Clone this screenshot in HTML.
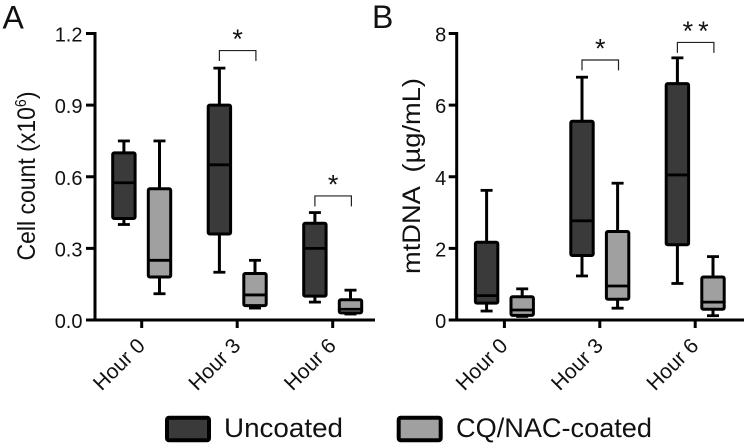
<!DOCTYPE html>
<html>
<head>
<meta charset="utf-8">
<style>
html,body{margin:0;padding:0;background:#fff;}
svg{display:block;font-family:"Liberation Sans",sans-serif;}
</style>
</head>
<body>
<svg id="chart" width="750" height="448" viewBox="0 0 750 448" xmlns="http://www.w3.org/2000/svg">
<text x="2.5" y="28.5" font-size="32" fill="#111">A</text>
<text x="372" y="28" font-size="32" fill="#111">B</text>
<text transform="translate(35,176) rotate(-90) scale(0.92,1)" text-anchor="middle" font-size="25" fill="#111">Cell count (x10<tspan font-size="15.5" dy="-9">6</tspan><tspan dy="9">)</tspan></text>
<text x="0" y="0" transform="translate(420,274) rotate(-90)" font-size="25" textLength="196" lengthAdjust="spacingAndGlyphs" fill="#111" xml:space="preserve">mtDNA  (µg/mL)</text>
<rect x="167" y="417.7" width="42" height="22.6" rx="2" fill="#3a3a3a" stroke="#000" stroke-width="4"/>
<text x="224" y="437" font-size="27" textLength="119" lengthAdjust="spacingAndGlyphs" fill="#111">Uncoated</text>
<rect x="398.7" y="417.7" width="42" height="22.6" rx="2" fill="#a0a0a0" stroke="#000" stroke-width="4"/>
<text x="456" y="437" font-size="27" textLength="196" lengthAdjust="spacingAndGlyphs" fill="#111">CQ/NAC-coated</text>
<g id="plots"></g>
</svg>
<script>
var categories = ['Hour 0', 'Hour 3', 'Hour 6'];
var ticksA = ['0.0', '0.3', '0.6', '0.9', '1.2'];
var ticksB = ['0', '2', '4', '6', '8'];
/* each box: [min, q1, median, q3, max] */
var uncoatedA = [[0.40,0.425,0.575,0.70,0.75],[0.20,0.36,0.65,0.90,1.055],[0.075,0.10,0.30,0.405,0.45]];
var coatedA = [[0.11,0.18,0.25,0.55,0.75],[0.05,0.06,0.105,0.195,0.25],[0.025,0.03,0.045,0.085,0.125]];
var uncoatedB = [[0.25,0.47,0.68,2.17,3.62],[1.23,1.80,2.77,5.55,6.78],[1.02,2.10,4.05,6.60,7.32]];
var coatedB = [[0.10,0.13,0.28,0.65,0.87],[0.33,0.58,0.95,2.47,3.82],[0.12,0.30,0.50,1.20,1.77]];
/* significance markers: category index, label, bracket foot level in axis units */
var sigA = [[1,'*',1.085],[2,'*',0.476]];
var sigB = [[1,'*',6.97],[2,'**',7.46]];

var NS = 'http://www.w3.org/2000/svg';
var root = document.getElementById('plots');
function make(tag, attrs, parent, text) {
  var el = document.createElementNS(NS, tag);
  for (var k in attrs) el.setAttribute(k, attrs[k]);
  if (text !== undefined) el.textContent = text;
  parent.appendChild(el);
  return el;
}
function drawPanel(o) {
  var top = 33.5, bottom = 320;
  var yScale = function (v) { return bottom - (v / o.max) * (bottom - top); };
  var xCenter = function (i) { return o.x0 + i * o.step; };
  var g = make('g', {}, root);
  
  

  function series(vals, offset, fill, name) {
    vals.forEach(function (b, i) {
      var cx = xCenter(i) + offset, hw = 11.2;
      var box = make('g', {}, g);
      
      
      var lineAttr = function (x1, y1, x2, y2, w) {
        return { x1: x1, y1: y1, x2: x2, y2: y2, stroke: '#000', 'stroke-width': w };
      };
      make('line', lineAttr(cx, yScale(b[0]), cx, yScale(b[4]), 3), box);
      make('line', lineAttr(cx - 6, yScale(b[0]), cx + 6, yScale(b[0]), 2.8), box);
      make('line', lineAttr(cx - 6, yScale(b[4]), cx + 6, yScale(b[4]), 2.8), box);
      make('rect', { x: cx - hw, y: yScale(b[3]), width: hw * 2, height: yScale(b[1]) - yScale(b[3]), rx: 1.5, fill: fill, stroke: '#000', 'stroke-width': 3 }, box);
      make('line', lineAttr(cx - hw, yScale(b[2]), cx + hw, yScale(b[2]), 2.8), box);
    });
  }
  series(o.dark, -17.8, '#3a3a3a', 'uncoated');
  series(o.light, 17.8, '#a0a0a0', 'coated');

  var axis = make('g', { stroke: '#000', 'stroke-width': 3, fill: 'none' }, g);
  
  
  make('line', { x1: o.axisX, y1: top - 1.5, x2: o.axisX, y2: bottom + 1.5 }, axis);
  make('line', { x1: o.axisX - o.tickLen, y1: bottom, x2: o.xEnd, y2: bottom }, axis);

  o.ticks.forEach(function (t, i) {
    var y = yScale(o.max * i / (o.ticks.length - 1));
    if (i > 0) make('line', { x1: o.axisX - o.tickLen, y1: y, x2: o.axisX, y2: y }, axis);
    var lab = make('text', { x: o.axisX - o.labelGap, y: y + 8, 'text-anchor': 'end', 'font-size': 20, fill: '#111' }, g, t);
    
    
  });
  categories.forEach(function (c, i) {
    var x = xCenter(i);
    make('line', { x1: x, y1: bottom, x2: x, y2: bottom + 8 }, axis);
    var lab = make('text', { transform: 'translate(' + (x + 4.5) + ',' + (bottom + 27) + ') rotate(-45)', 'text-anchor': 'end', 'font-size': 21, fill: '#111' }, g, c);
    
    
  });
  o.sig.forEach(function (s) {
    var i = s[0], x1 = xCenter(i) - 17.8, x2 = xCenter(i) + 18.7;
    var yb = yScale(s[2]);
    var yt = yb - 10.4;
    var br = make('path', { d: 'M' + x1 + ' ' + yb + 'V' + yt + 'H' + x2 + 'V' + yb, fill: 'none', stroke: '#222', 'stroke-width': 1.2 }, g);
    
    
    var sp = s[1].length > 1 ? 5 : 0;
    var st = make('text', { x: (x1 + x2) / 2 + sp / 2, y: yt - 2.5, 'text-anchor': 'middle', 'font-size': 27, 'letter-spacing': sp, fill: '#111' }, g, s[1]);
    
    
  });
}
drawPanel({ id: 'a', max: 1.2, axisX: 95, xEnd: 375, x0: 141.7, step: 95.5, tickLen: 9, labelGap: 12.5, ticks: ticksA, dark: uncoatedA, light: coatedA, sig: sigA });
drawPanel({ id: 'b', max: 8, axisX: 456.7, xEnd: 744, x0: 504.4, step: 95.4, tickLen: 8, labelGap: 10.5, ticks: ticksB, dark: uncoatedB, light: coatedB, sig: sigB });
</script>
</body>
</html>
